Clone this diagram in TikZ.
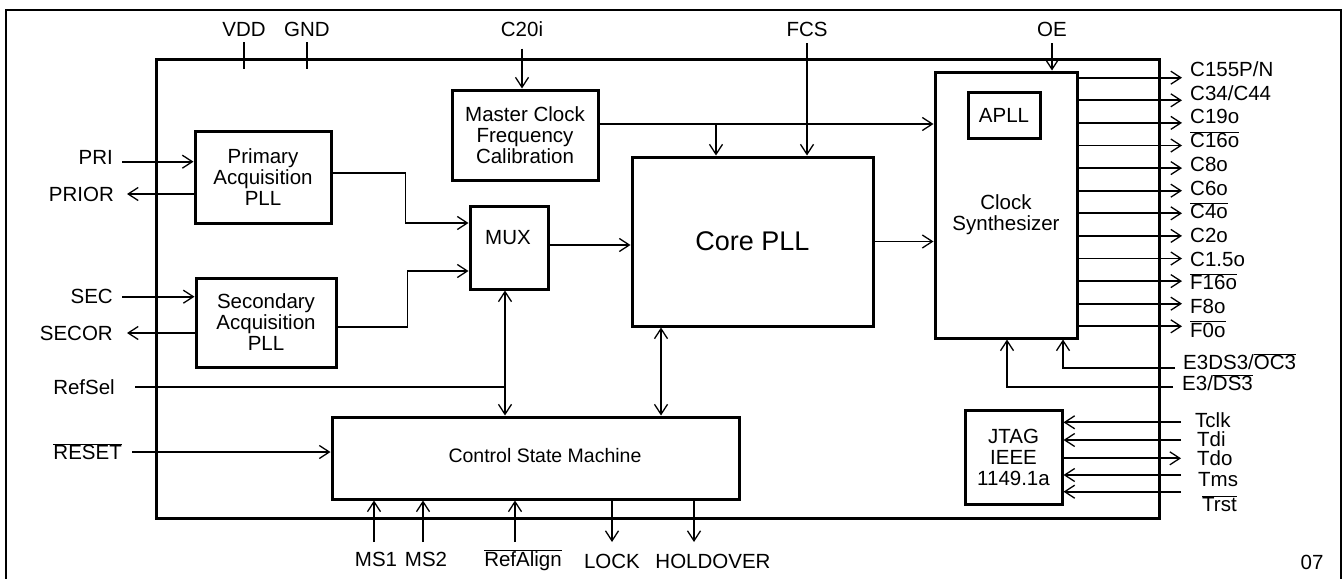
\documentclass[tikz,border=0pt]{standalone}
\usepackage{fontspec}
\setmainfont{Liberation Sans}
\usetikzlibrary{arrows.meta}
\newcommand{\ovl}[1]{$\overline{\mbox{#1}}$}

\begin{document}
\begin{tikzpicture}[x=1pt,y=-1pt,
		font=\fontsize{20.5}{21}\selectfont,
		block/.style={draw,line width=3pt,inner sep=0pt,align=center},
		wire/.style={line width=1.8pt},
		pinlbl/.style={inner sep=0pt},
		>={Straight Barb[length=10pt,width=13pt,line width=1.3pt]}]
		\useasboundingbox (0,0) rectangle (1343,578);
		% frame and chip outline
		\draw[line width=2pt] (6,10) rectangle (1341,600);
		\draw[line width=3pt] (156,60) rectangle (1159,518);
		
		% blocks
		\node[block,minimum width=136pt,minimum height=92pt] (prim) at (263,177) {Primary\\Acquisition\\PLL};
		\node[block,minimum width=140pt,minimum height=89pt] (secd) at (266,322.5) {Secondary\\Acquisition\\PLL};
		\node[block,minimum width=146pt,minimum height=90pt] (mclk) at (525,135) {Master Clock\\Frequency\\Calibration};
		\node[block,minimum width=78pt,minimum height=83pt] (mux) at (509,247.5) {};
		\node (muxtxt) at (508,238) {MUX};
		\node[block,minimum width=241pt,minimum height=169pt,font=\fontsize{27}{27}\selectfont] (core) at (752.5,241.5) {Core PLL};
		\node[block,minimum width=142pt,minimum height=266pt] (synth) at (1006,205) {};
		\node[align=center] (synthtxt) at (1006,215) {Clock\\Synthesizer};
		\node[block,minimum width=72pt,minimum height=46pt] (apll) at (1004,115) {APLL};
		\node[block,minimum width=97pt,minimum height=94pt] (jtag) at (1013.5,457) {JTAG\\IEEE\\1149.1a};
		\node[block,minimum width=407pt,minimum height=82pt] (csm) at (535.5,458) {};
		\node[font=\fontsize{19.5}{21}\selectfont] (csmtxt) at (545,456) {Control State Machine};
		
		% top pins
		\node[pinlbl] (vdd) at (244,29) {VDD};
		\node[pinlbl] (gnd) at (307,29) {GND};
		\draw[wire] ([yshift=-6pt]vdd.south) -- ++(0,27);
		\draw[wire] ([yshift=-6pt]gnd.south) -- ++(0,27);
		\node[pinlbl] (c20i) at (522,29) {C20i};
		\draw[wire,->] ([yshift=-12pt]c20i.south) -- (c20i.south |- mclk.north);
		\node[pinlbl] (fcs) at (807,29) {FCS};
		\draw[wire,->] ([yshift=-7pt]fcs.south) -- (fcs.south |- core.north);
		\node[pinlbl] (oe) at (1052,29) {OE};
		\draw[wire,->] ([yshift=-7pt]oe.south) -- (oe.south |- synth.north);
		
		% inner signals
		\coordinate (mcout) at ([yshift=11pt]mclk.east);
		\coordinate (corein) at ([xshift=-36.5pt]core.north);
		\draw[wire,->] (mcout) -- (mcout -| synth.west);
		\draw[wire,->] (corein |- mcout) -- (corein);
		\draw[wire,->] (core.east) -- (core.east -| synth.west);
		\coordinate (muxout) at ([yshift=2.5pt]mux.east);
		\draw[wire,->] (muxout) -- (muxout -| core.west);
		\coordinate (muxa) at ([yshift=24.5pt]mux.west);
		\coordinate (muxb) at ([yshift=-23.5pt]mux.west);
		\draw[wire,->] ([yshift=4pt]prim.east) -| ([xshift=-63pt]muxa) -- (muxa);
		\draw[wire,->] ([yshift=-4.5pt]secd.east) -| ([xshift=-61pt]muxb) -- (muxb);
		\coordinate (muxc) at ([xshift=-4pt]mux.south);
		\draw[wire,<->] (muxc) -- (muxc |- csm.north);
		\coordinate (corec) at ([xshift=-91.5pt]core.south);
		\draw[wire,<->] (corec) -- (corec |- csm.north);
		
		% left pins
		\node[pinlbl,anchor=east] (pri) at (113,157) {PRI};
		\coordinate (priin) at (122,161.7);
		\draw[wire,->] (priin) -- (priin -| prim.west);
		\node[pinlbl,anchor=east] (prior) at (114,194.5) {PRIOR};
		\coordinate (priout) at (127,194);
		\draw[wire,->] (priout -| prim.west) -- (priout);
		\node[pinlbl,anchor=east] (sec) at (113,296) {SEC};
		\coordinate (secin) at (122,296.7);
		\draw[wire,->] (secin) -- (secin -| secd.west);
		\node[pinlbl,anchor=east] (secor) at (113,333) {SECOR};
		\coordinate (secout) at (127,333);
		\draw[wire,->] (secout -| secd.west) -- (secout);
		\node[pinlbl,anchor=east] (refsel) at (115,387) {RefSel};
		\coordinate (refselin) at (135,386.7);
		\draw[wire] (refselin) -- (refselin -| muxc);
		\node[pinlbl,anchor=base east] (reset) at (122,459.5) {\ovl{RESET}};
		\coordinate (resetin) at (132,452);
		\draw[wire,->] (resetin) -- (resetin -| csm.west);
		
		% bottom pins
		\foreach \x/\lx/\lbl/\nm in {374/376/MS1/ms1, 423/426/MS2/ms2, 515/523/\ovl{RefAlign}/refalign} {
			\node[pinlbl,anchor=base] (\nm) at (\lx,566) {\lbl};
			\coordinate (\nm in) at (\x,542);
			\draw[wire,->] (\nm in) -- (\nm in |- csm.south);
		}
		\foreach \x/\lx/\lbl/\nm in {612/612/LOCK/lock, 694/713/HOLDOVER/hold} {
			\node[pinlbl,anchor=base] (\nm) at (\lx,568) {\lbl};
			\coordinate (\nm out) at (\x,542);
			\draw[wire,->] (\nm out |- csm.south) -- (\nm out);
		}
		
		% clock outputs
		\foreach \lbl [count=\i from 0] in {C155P/N,C34/C44,C19o,\ovl{C16o},C8o,C6o,\ovl{C4o},C2o,C1.5o,\ovl{F16o},F8o,\ovl{F0o}} {
			\pgfmathsetmacro{\ly}{77.7+22.6*\i}
			\pgfmathsetmacro{\by}{76.5+23.7*\i}
			\node[pinlbl,anchor=base west] (out\i) at (1190,\by) {\lbl};
			\coordinate (co\i) at (1182,\ly);
			\draw[wire,->] (co\i -| synth.east) -- (co\i);
		}
		
		% E3/DS3 selects
		\node[pinlbl,anchor=base west] (e3oc) at (1183,369.5) {E3DS3/\ovl{OC3}};
		\coordinate (e3ocin) at (1175,367.7);
		\draw[wire,->] (e3ocin) -| ([xshift=57pt]synth.south);
		\node[pinlbl,anchor=base west] (e3ds) at (1182,390.5) {E3/\ovl{DS3}};
		\coordinate (e3dsin) at (1173,386.7);
		\draw[wire,->] (e3dsin) -| ([xshift=1pt]synth.south);
		
		% JTAG port
		\foreach \y/\by/\lx/\lbl [count=\i] in {422.3/427/1195/Tclk, 440/446/1197/Tdi, 458.3/465/1197/Tdo, 475/486.5/1198/Tms, 491.7/511.5/1202/\ovl{Trst}} {
			\node[pinlbl,anchor=base west] (jt\i) at (\lx,\by) {\lbl};
			\coordinate (jp\i) at (1181,\y);
		}
		\foreach \i in {1,2,4,5}
			\draw[wire,->] (jp\i) -- (jp\i -| jtag.east);
		\draw[wire,->] (jp3 -| jtag.east) -- (jp3);
		
		\node[pinlbl] (fignum) at (1312,562) {07};
	\end{tikzpicture}
\end{document}
